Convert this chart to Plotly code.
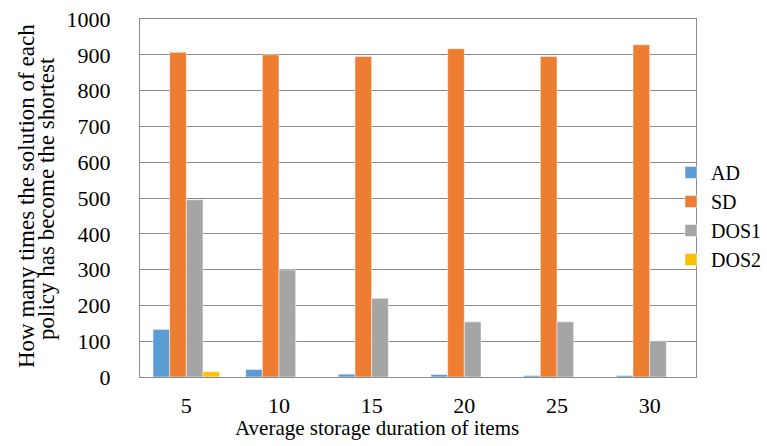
import plotly.graph_objects as go

categories = ["5", "10", "15", "20", "25", "30"]
ad = [133, 21, 8, 7, 4, 4]
sd = [907, 900, 895, 917, 895, 928]
dos1 = [495, 299, 220, 154, 154, 101]
dos2 = [15, 0, 0, 0, 0, 0]

series_names = ["AD", "SD", "DOS1", "DOS2"]
series_values = [ad, sd, dos1, dos2]
colors = ["#5B9BD5", "#ED7D31", "#A5A5A5", "#FFC000"]

FONT = "Liberation Serif, Times New Roman, serif"
W, H = 767, 446
plot_l, plot_r, plot_t, plot_b = 140, 696, 19, 377
pw, ph = plot_r - plot_l, plot_b - plot_t

def px_x(x):
    return (x - plot_l) / pw

def px_y(y):
    return (plot_b - y) / ph

fig = go.Figure()
for name, vals, col in zip(series_names, series_values, colors):
    fig.add_trace(go.Bar(
        x=categories, y=vals, name=name,
        marker=dict(color=col, line=dict(color="rgba(255,255,255,0.5)", width=1)),
    ))

tf = dict(family=FONT, size=22, color="#000000")
lf = dict(family=FONT, size=20, color="#000000")

fig.update_layout(
    width=W, height=H,
    margin=dict(l=plot_l, r=W - plot_r, t=plot_t, b=H - plot_b, pad=0, autoexpand=False),
    paper_bgcolor="white", plot_bgcolor="white",
    barmode="group", bargap=0.28, bargroupgap=0,
    font=tf,
    showlegend=True,
    legend=dict(
        xref="container", x=671 / W, xanchor="left",
        yref="container", y=1 - 216 / H, yanchor="middle",
        font=lf, itemwidth=30, tracegroupgap=0,
        bgcolor="rgba(0,0,0,0)",
    ),
    xaxis=dict(
        type="category",
        showgrid=False,
        showline=True, linecolor="#8C8C8C", linewidth=1, mirror=True,
        ticks="", tickfont=tf,
        ticklabelstandoff=9,
    ),
    yaxis=dict(
        range=[0, 1000], dtick=100, tick0=0,
        showgrid=True, gridcolor="#8C8C8C", gridwidth=1,
        showline=True, linecolor="#8C8C8C", linewidth=1, mirror=True,
        zeroline=False,
        ticks="", tickfont=tf,
        ticklabelstandoff=24,
    ),
    annotations=[
        dict(text="Average storage duration of items", xref="paper", x=px_x(377),
             xanchor="center",
             yref="paper", y=px_y(428), yanchor="middle", showarrow=False,
             font=dict(family=FONT, size=21, color="#000000")),
        dict(text="How many times the solution of each", xref="paper", x=px_x(27),
             yref="paper", y=px_y(196), xanchor="center", yanchor="middle",
             showarrow=False, textangle=-90,
             font=dict(family=FONT, size=23, color="#000000")),
        dict(text="policy has become the shortest", xref="paper", x=px_x(46),
             yref="paper", y=px_y(199), xanchor="center", yanchor="middle",
             showarrow=False, textangle=-90,
             font=dict(family=FONT, size=23, color="#000000")),
    ],
)

fig.write_html("out.html")
